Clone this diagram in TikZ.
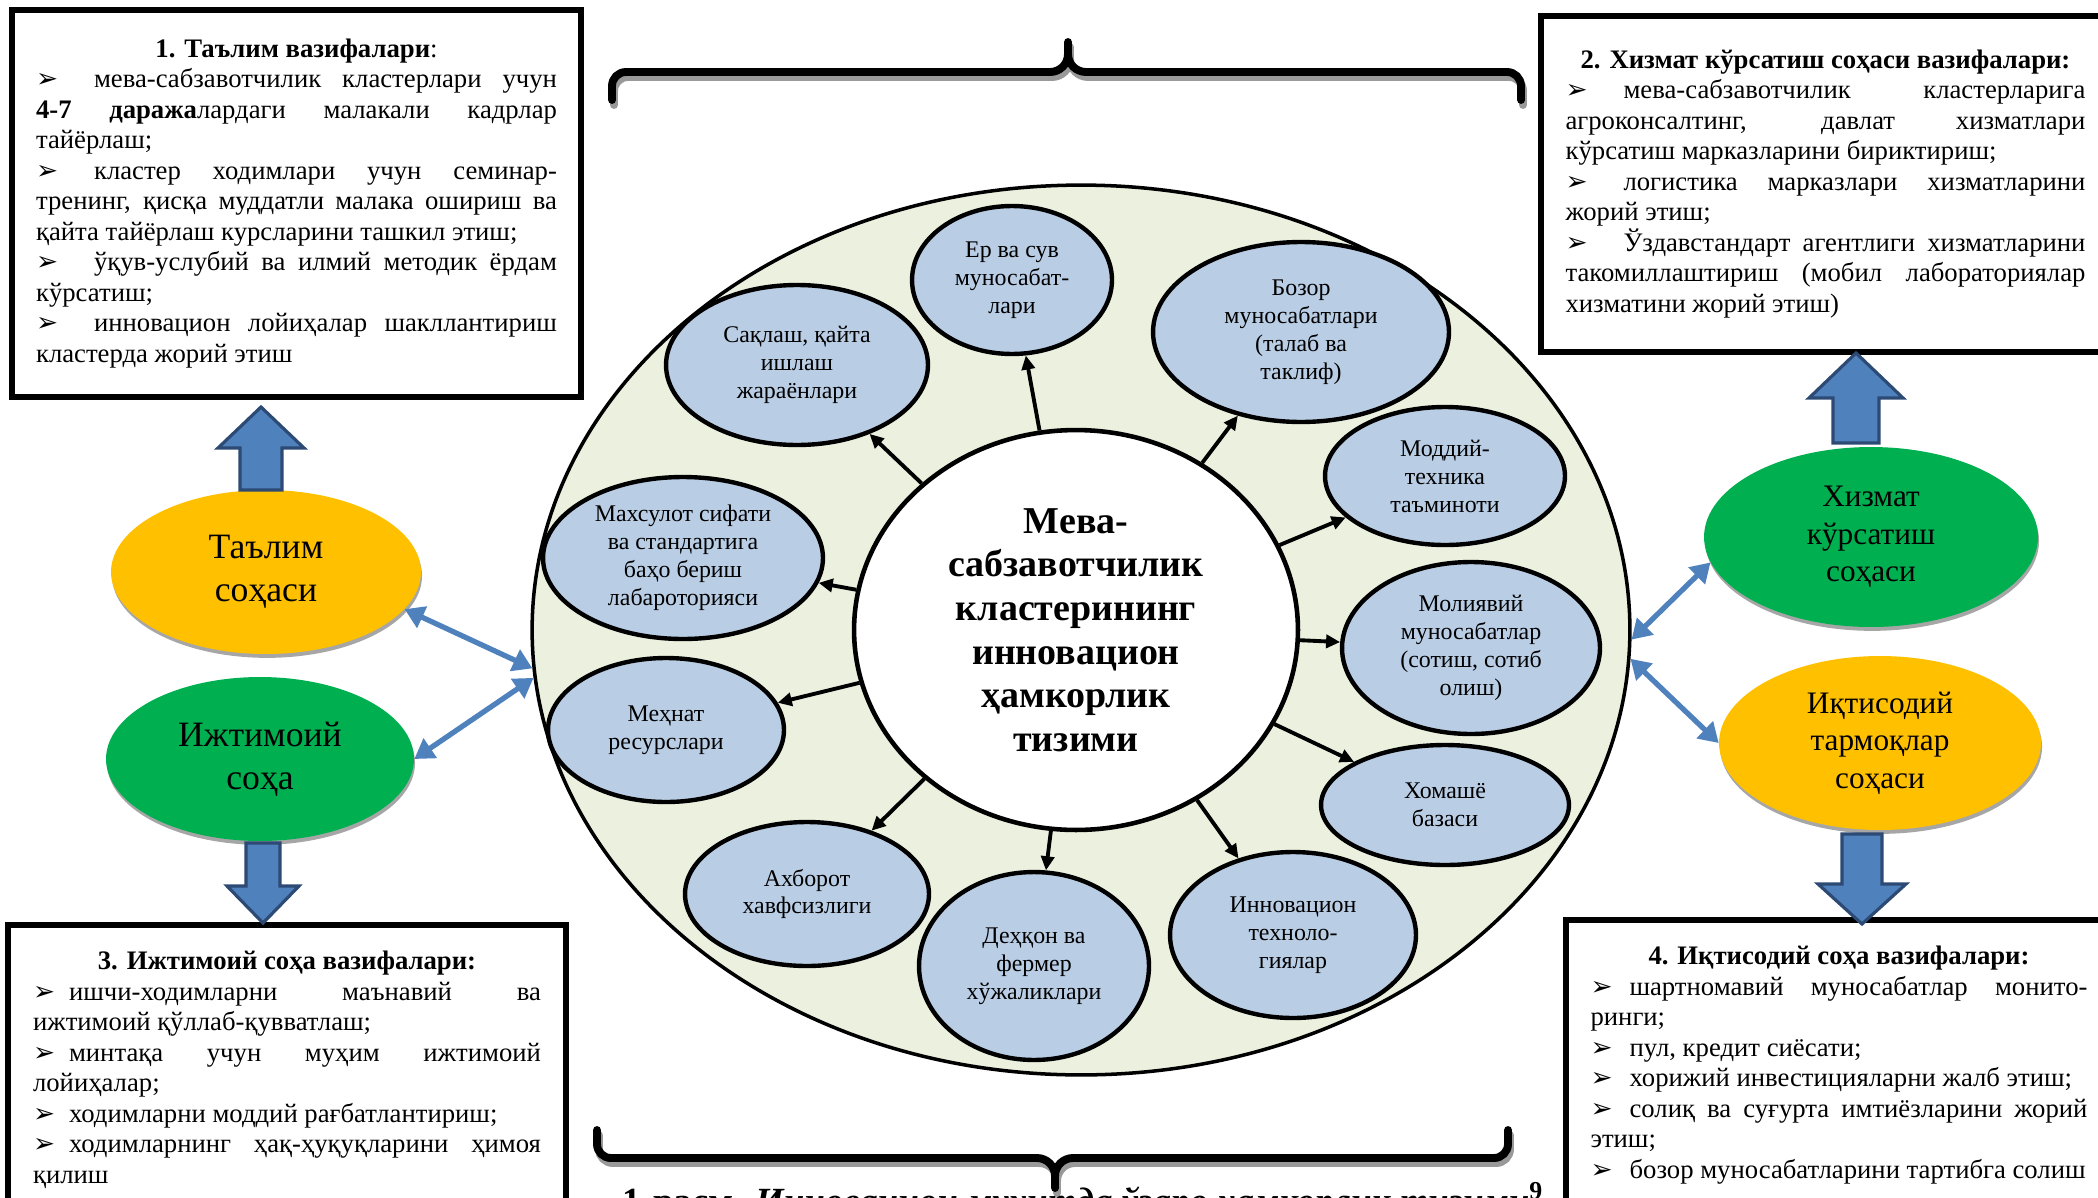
\documentclass[tikz,border=0pt]{standalone}
\usepackage{fontspec}
\setmainfont{Liberation Serif}
\newfontfamily\symbfont{DejaVu Sans}
\usetikzlibrary{shapes.geometric, arrows.meta, shadows}

\definecolor{bubblefill}{HTML}{B9CDE5}
\definecolor{fieldfill}{HTML}{EBF1DE}
\definecolor{sunorange}{HTML}{FFC000}
\definecolor{leafgreen}{HTML}{00B050}
\definecolor{linkblue}{HTML}{4F81BD}
\definecolor{linkedge}{HTML}{2C4A74}

\newcommand{\pointer}[1]{\makebox[#1][l]{\symbfont\fontsize{15}{15}\selectfont ➢}}

\begin{document}
\begin{tikzpicture}[x=0.02cm, y=-0.02cm,
    taskbox/.style={draw, rectangle, line width=3.2pt, inner sep=0pt, align=justify, font=\fontsize{15.2}{17.36}\selectfont},
    bubble/.style={draw, ellipse, line width=2.5pt, fill=bubblefill, inner sep=0pt, align=center, font=\fontsize{13.6}{15.9}\selectfont},
    sphere/.style={ellipse, inner sep=0pt, align=center, drop shadow={shadow xshift=0.6pt, shadow yshift=-2.2pt, fill=black!35, opacity=1}},
    hublink/.style={-{Triangle[length=8pt,width=7.5pt]}, line width=2.2pt},
    duallink/.style={{Triangle[length=11pt,width=13pt]}-{Triangle[length=11pt,width=13pt]}, line width=3pt, draw=linkblue, fill=linkblue},
    blockarrow/.style={fill=linkblue, draw=linkedge, line width=1.8pt},
    bracket/.style={line width=4.5pt, line cap=round, line join=round}]
    \useasboundingbox (0,0) rectangle (2098,1197);

    % Task boxes
    \node[taskbox, minimum width=11.38cm, minimum height=7.74cm, text width=10.42cm] (edutasks) at (296.5,203.5) {%
        \centerline{\textbf{1. Таълим вазифалари}:}\par
        \pointer{1.16cm}мева-сабзавотчилик кластерлари учун\linebreak \textbf{4-7 даража}лардаги малакали кадрлар\linebreak тайёрлаш;\par
        \pointer{1.16cm}кластер ходимлари учун семинар-\linebreak тренинг, қисқа муддатли малака ошириш ва\linebreak қайта тайёрлаш курсларини ташкил этиш;\par
        \pointer{1.16cm}ўқув-услубий ва илмий методик ёрдам\linebreak кўрсатиш;\par
        \pointer{1.16cm}инновацион лойиҳалар шакллантириш\linebreak кластерда жорий этиш};
    \node[taskbox, minimum width=11.38cm, minimum height=6.72cm, text width=10.4cm] (servicetasks) at (1825.5,184) {%
        \centerline{\textbf{2. Хизмат кўрсатиш соҳаси вазифалари:}}\par
        \pointer{1.16cm}мева-сабзавотчилик кластерларига\linebreak агроконсалтинг, давлат хизматлари\linebreak кўрсатиш марказларини бириктириш;\par
        \pointer{1.16cm}логистика марказлари хизматларини\linebreak жорий этиш;\par
        \pointer{1.16cm}Ўздавстандарт агентлиги хизматларини\linebreak такомиллаштириш (мобил лабораториялар\linebreak хизматини жорий этиш)};
    \node[taskbox, minimum width=11.16cm, minimum height=5.8cm, text width=10.16cm] (socialtasks) at (287,1070) {%
        \centerline{\textbf{3. Ижтимоий соҳа вазифалари:}}\par
        \pointer{0.72cm}ишчи-ходимларни маънавий ва\linebreak ижтимоий қўллаб-қувватлаш;\par
        \pointer{0.72cm}минтақа учун муҳим ижтимоий\linebreak лойиҳалар;\par
        \pointer{0.72cm}ходимларни моддий рағбатлантириш;\par
        \pointer{0.72cm}ходимларнинг ҳақ-ҳуқуқларини ҳимоя\linebreak қилиш};
    \node[taskbox, minimum width=10.92cm, minimum height=5.8cm, text width=9.94cm] (economytasks) at (1839,1065) {%
        \centerline{\textbf{4. Иқтисодий соҳа вазифалари:}}\par
        \pointer{0.78cm}шартномавий муносабатлар монито-\linebreak ринги;\par
        \pointer{0.78cm}пул, кредит сиёсати;\par
        \pointer{0.78cm}хорижий инвестицияларни жалб этиш;\par
        \pointer{0.78cm}солиқ ва суғурта имтиёзларини жорий\linebreak этиш;\par
        \pointer{0.78cm}бозор муносабатларини тартибга солиш};

    % Braces
    \draw[bracket, black!40, shift={(2,5)}] (612,100) -- (612,86) to[out=90,in=180] (626,72) -- (1050,72) to[out=0,in=-90] (1068,54) -- (1068,42) -- (1068,54) to[out=-90,in=180] (1086,72) -- (1507,72) to[out=0,in=90] (1521,86) -- (1521,100);
    \draw[bracket] (612,100) -- (612,86) to[out=90,in=180] (626,72) -- (1050,72) to[out=0,in=-90] (1068,54) -- (1068,42) -- (1068,54) to[out=-90,in=180] (1086,72) -- (1507,72) to[out=0,in=90] (1521,86) -- (1521,100);
    \draw[bracket, black!40, shift={(2,5)}] (597,1130) -- (597,1144) to[out=-90,in=180] (611,1158) -- (1037,1158) to[out=0,in=90] (1055,1176) -- (1055,1188) -- (1055,1176) to[out=90,in=180] (1073,1158) -- (1494,1158) to[out=0,in=-90] (1508,1144) -- (1508,1130);
    \draw[bracket] (597,1130) -- (597,1144) to[out=-90,in=180] (611,1158) -- (1037,1158) to[out=0,in=90] (1055,1176) -- (1055,1188) -- (1055,1176) to[out=90,in=180] (1073,1158) -- (1494,1158) to[out=0,in=-90] (1508,1144) -- (1508,1130);

    % Cluster field
    \node[draw, ellipse, line width=2pt, fill=fieldfill, minimum width=21.96cm, minimum height=17.8cm] (field) at (1081,630) {};
    \node[draw, ellipse, line width=2.6pt, fill=white, inner sep=0pt, minimum width=8.88cm, minimum height=8cm, align=center, font=\fontsize{21.6}{24.8}\selectfont\bfseries] (hub) at (1076,630) {Мева-\\сабзавотчилик\\кластерининг\\инновацион\\ҳамкорлик\\тизими};

    \node[bubble, minimum width=4.0cm, minimum height=2.96cm] (land) at (1012,280) {Ер ва сув\\муносабат-\\лари};
    \node[bubble, minimum width=5.92cm, minimum height=3.6cm] (market) at (1301,332) {Бозор\\муносабатлари\\(талаб ва\\таклиф)};
    \node[bubble, minimum width=4.8cm, minimum height=2.76cm] (supply) at (1445,476) {Моддий-\\техника\\таъминоти};
    \node[bubble, minimum width=5.16cm, minimum height=3.44cm] (finance) at (1471,648) {Молиявий\\муносабатлар\\(сотиш, сотиб\\олиш)};
    \node[bubble, minimum width=4.96cm, minimum height=2.4cm] (raw) at (1445,805) {Хомашё\\базаси};
    \node[bubble, minimum width=4.92cm, minimum height=3.32cm] (tech) at (1293,935) {Инновацион\\техноло-\\гиялар};
    \node[bubble, minimum width=4.6cm, minimum height=3.76cm] (farms) at (1034,966) {Деҳқон ва\\фермер\\хўжаликлари};
    \node[bubble, minimum width=4.88cm, minimum height=2.88cm] (infosec) at (807,894) {Ахборот\\хавфсизлиги};
    \node[bubble, minimum width=4.72cm, minimum height=2.88cm] (labour) at (666,730) {Меҳнат\\ресурслари};
    \node[bubble, minimum width=5.6cm, minimum height=3.24cm] (quality) at (683,558) {Махсулот сифати\\ва стандартига\\баҳо бериш\\лабароторияси};
    \node[bubble, minimum width=5.24cm, minimum height=3.2cm] (storage) at (797,365) {Сақлаш, қайта\\ишлаш\\жараёнлари};

    \foreach \b in {land, market, supply, finance, raw, tech, farms, infosec, labour, quality, storage}
        \draw[hublink] (hub) -- (\b);

    % Spheres
    \node[sphere, fill=sunorange, minimum width=6.2cm, minimum height=3.28cm, font=\fontsize{20.3}{24.5}\selectfont] (edu) at (266,572) {Таълим\\соҳаси};
    \node[sphere, fill=leafgreen, minimum width=6.16cm, minimum height=3.28cm, font=\fontsize{20.3}{24.5}\selectfont] (social) at (260,759) {Ижтимоий\\соҳа};
    \node[sphere, fill=leafgreen, minimum width=6.68cm, minimum height=3.6cm, font=\fontsize{17.8}{21.3}\selectfont] (service) at (1871,537) {Хизмат\\кўрсатиш\\соҳаси};
    \node[sphere, fill=sunorange, minimum width=6.44cm, minimum height=3.48cm, font=\fontsize{17.8}{21.3}\selectfont] (economy) at (1880,743) {Иқтисодий\\тармоқлар\\соҳаси};

    \draw[duallink] (edu.-15) -- (field.184);
    \draw[duallink] (social.east) -- (field.185);
    \draw[duallink] (service.189) -- (field.-1);
    \draw[duallink] (economy.west) -- (field.-3);

    % Block arrows
    \foreach \x/\tail/\base/\tip/\hw/\sw in {261/490/448/407/43/21, 263/843/886/923/36/17, 1856/443/398/353/47/23, 1862/834/884/924/44/20}
        \filldraw[blockarrow] (\x-\sw,\tail) -- (\x-\sw,\base) -- (\x-\hw,\base) -- (\x,\tip) -- (\x+\hw,\base) -- (\x+\sw,\base) -- (\x+\sw,\tail) -- cycle;

    % Caption
    \node[anchor=base west, inner sep=0pt, font=\fontsize{21}{24}\selectfont\bfseries] (caption) at (622,1213) {1-расм. \textit{Инновацион муҳитда ўзаро ҳамкорлик тизими}\textsuperscript{9}};
\end{tikzpicture}
\end{document}
